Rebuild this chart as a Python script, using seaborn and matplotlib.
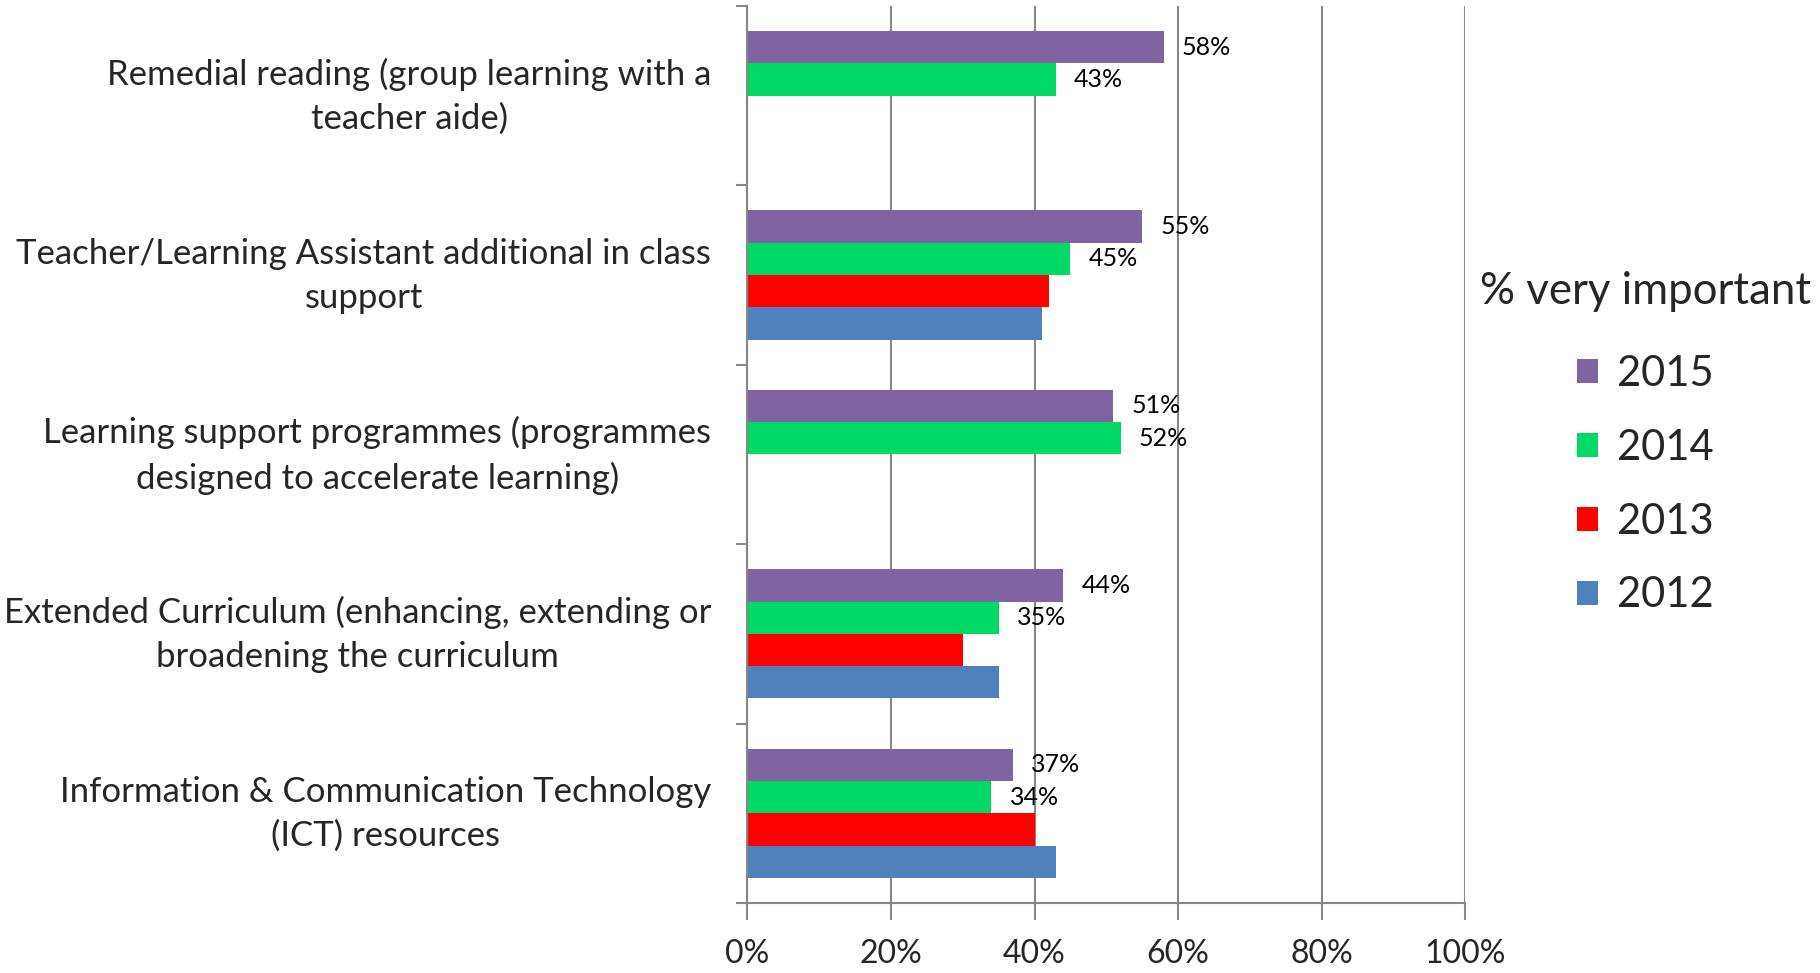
import numpy as np
import pandas as pd
import seaborn as sns
import matplotlib.pyplot as plt
import matplotlib.transforms as mtransforms

CATEGORIES = [
    "Remedial reading (group learning with a\nteacher aide)",
    "Teacher/Learning Assistant additional in class\nsupport",
    "Learning support programmes (programmes\ndesigned to accelerate learning)",
    "Extended Curriculum (enhancing, extending or\nbroadening the curriculum",
    "Information & Communication Technology\n(ICT) resources",
]
YEARS = ["2015", "2014", "2013", "2012"]
VALUES_2015 = [58, 55, 51, 44, 37]
VALUES_2014 = [43, 45, 52, 35, 34]
VALUES_2013 = [np.nan, 42, np.nan, 30, 40]
VALUES_2012 = [np.nan, 41, np.nan, 35, 43]
COLORS = ["#8064A2", "#00D966", "#FF0000", "#4F81BD"]
X_TICKS = [0, 20, 40, 60, 80, 100]

FONT = ["Lato", "DejaVu Sans"]


def build_frame() -> pd.DataFrame:
    rows = []
    for year, vals in zip(YEARS, [VALUES_2015, VALUES_2014, VALUES_2013, VALUES_2012]):
        for cat, v in zip(CATEGORIES, vals):
            rows.append({"category": cat, "year": year, "value": v})
    return pd.DataFrame(rows)


def main():
    sns.set_theme(style="white")
    plt.rcParams["font.family"] = FONT

    df = build_frame()
    fig = plt.figure(figsize=(18.2, 9.73), dpi=100)
    ax = fig.add_axes([0.4107, 0.072, 0.3943, 0.922])

    sns.barplot(data=df, y="category", x="value", hue="year", order=CATEGORIES,
                hue_order=YEARS, palette=COLORS, orient="h", width=0.72,
                errorbar=None, saturation=1, linewidth=0, ax=ax)

    # only 2015 and 2014 carry labels
    for cont in ax.containers[:2]:
        ax.bar_label(cont, labels=[f"{v:.0f}%" for v in cont.datavalues],
                     padding=13, fontsize=18, color="#000000")

    ax.set_xlim(0, 100)
    ax.set_ylim(4.5, -0.5)
    ax.set_xticks(X_TICKS)
    ax.set_xticklabels([f"{t}%" for t in X_TICKS], fontsize=23)
    ax.grid(axis="x", color="#888888", linewidth=1.5)
    ax.grid(axis="y", visible=False)
    ax.set_axisbelow(True)
    ax.set_xlabel("")
    ax.set_ylabel("")

    ax.set_yticks(range(len(CATEGORIES)))
    ax.set_yticklabels(CATEGORIES, fontsize=25, multialignment="center", linespacing=1.45)
    ax.set_yticks(np.arange(-0.5, len(CATEGORIES), 1.0), minor=True)
    ax.tick_params(axis="y", which="major", length=0, pad=26)
    ax.tick_params(axis="y", which="minor", length=8, width=1.5, color="#888888", left=True)
    ax.tick_params(axis="x", length=12, width=1.5, color="#888888", bottom=True, pad=14)

    # nudge category labels up a bit
    shift = mtransforms.ScaledTranslation(0, 8 / 100, fig.dpi_scale_trans)
    for lab in ax.get_yticklabels():
        lab.set_transform(lab.get_transform() + shift)

    for side in ["top", "right"]:
        ax.spines[side].set_visible(False)
    for side in ["left", "bottom"]:
        ax.spines[side].set_color("#888888")
        ax.spines[side].set_linewidth(1.5)

    leg = ax.legend(title="% very important", loc="center",
                    bbox_to_anchor=(0.904, 0.545), bbox_transform=fig.transFigure,
                    frameon=False, fontsize=30, title_fontsize=31.5,
                    handlelength=0.5, handleheight=0.5, handletextpad=0.45,
                    labelspacing=0.86)
    leg._legend_box.sep = 31

    fig.savefig("out.png", dpi=100)
    plt.close(fig)


if __name__ == "__main__":
    main()
